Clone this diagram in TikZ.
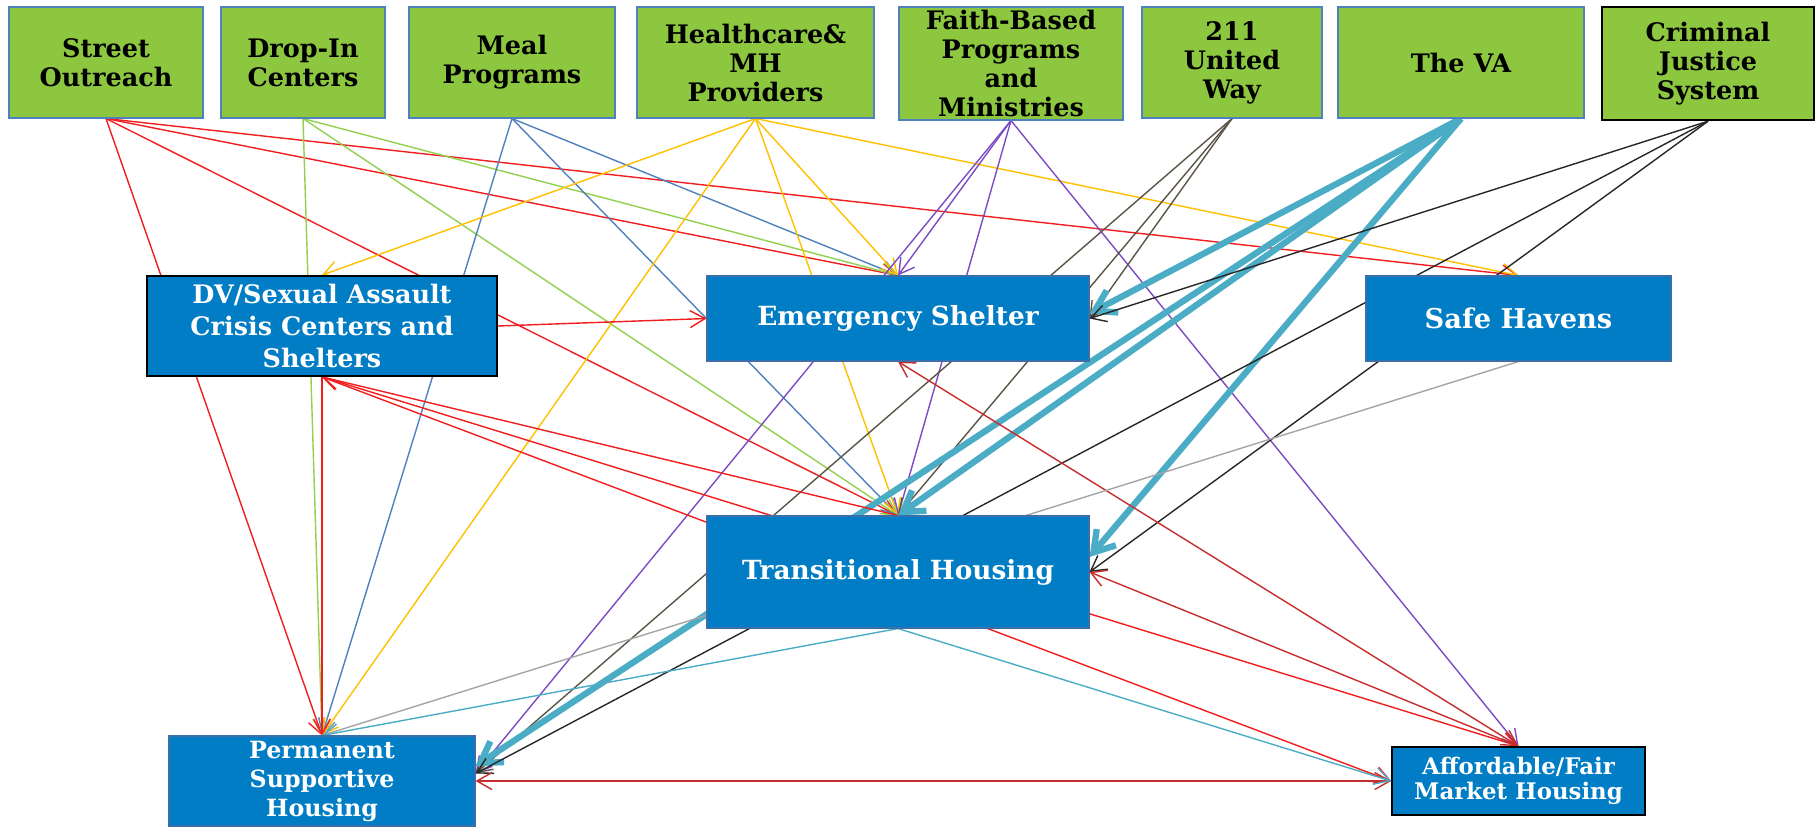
\documentclass[tikz,border=0pt]{standalone}
\usepackage{fontspec}
\setmainfont{DejaVu Serif}
\usetikzlibrary{arrows.meta}

\definecolor{boxgreen}{RGB}{141,198,63}
\definecolor{boxgreenrim}{RGB}{79,129,189}
\definecolor{boxblue}{RGB}{0,125,196}
\definecolor{boxbluerim}{RGB}{60,110,170}
\definecolor{lnred}{RGB}{240,30,30}
\definecolor{lnbrick}{RGB}{200,45,45}
\definecolor{lngreen}{RGB}{146,208,80}
\definecolor{lnblue}{RGB}{79,129,189}
\definecolor{lnyellow}{RGB}{255,192,0}
\definecolor{lnpurple}{RGB}{125,75,195}
\definecolor{lnolive}{RGB}{90,85,70}
\definecolor{lnteal}{RGB}{75,172,198}
\definecolor{lnblack}{RGB}{40,40,40}
\definecolor{lngrey}{RGB}{165,165,165}

\pgfdeclarelayer{back}
\pgfsetlayers{back,main}

\tikzset{
	agency/.style={draw=boxgreenrim, fill=boxgreen, line width=0.6pt, align=center, inner sep=0pt,
		font=\fontsize{14.5}{16.5}\selectfont\bfseries, minimum height=2.22cm},
	service/.style={draw=boxbluerim, fill=boxblue, text=white, line width=0.6pt, align=center, inner sep=0pt,
		font=\fontsize{14.5}{18}\selectfont\bfseries},
	flow/.style={line width=0.8pt, -{Straight Barb[length=3mm,width=3.4mm]}},
	twoway/.style={line width=0.8pt, {Straight Barb[length=3mm,width=3.4mm]}-{Straight Barb[length=3mm,width=3.4mm]}},
	vaflow/.style={draw=lnteal, line width=3.6pt, -{Straight Barb[length=4mm,width=5mm]}}
}

\begin{document}
\begin{tikzpicture}
	\useasboundingbox (0,0) rectangle (36.36,-16.7);
	
% referral sources
	\node[agency, minimum width=3.88cm] (so) at (2.12,-1.25) {Street\\Outreach};
	\node[agency, minimum width=3.28cm] (di) at (6.06,-1.25) {Drop-In\\Centers};
	\node[agency, minimum width=4.12cm] (mp) at (10.24,-1.25) {Meal\\Programs};
	\node[agency, minimum width=4.74cm] (hc) at (15.11,-1.25) {Healthcare\&\\MH\\Providers};
	\node[agency, minimum width=4.48cm, minimum height=2.26cm] (fb) at (20.22,-1.27) {Faith-Based\\Programs\\and\\Ministries};
	\node[agency, minimum width=3.6cm] (uw) at (24.64,-1.25) {211\\United\\Way};
	\node[agency, minimum width=4.92cm] (va) at (29.22,-1.25) {The VA};
	\node[agency, minimum width=4.24cm, minimum height=2.26cm, draw=black, line width=1.4pt] (cj) at (34.16,-1.27) {Criminal\\Justice\\System};
	
% housing
	\node[service, minimum width=7cm, minimum height=2cm, draw=black, line width=1pt] (dv) at (6.44,-6.52) {DV/Sexual Assault\\Crisis Centers and\\Shelters};
	\node[service, minimum width=7.64cm, minimum height=1.7cm, font=\fontsize{15}{18}\selectfont\bfseries] (es) at (17.96,-6.37) {Emergency Shelter};
	\node[service, minimum width=6.1cm, minimum height=1.7cm, font=\fontsize{15.5}{18}\selectfont\bfseries] (sh) at (30.37,-6.37) {Safe Havens};
	\node[service, minimum width=7.64cm, minimum height=2.24cm, font=\fontsize{15}{18}\selectfont\bfseries] (th) at (17.96,-11.44) {Transitional Housing};
	\node[service, minimum width=6.12cm, minimum height=1.8cm, font=\fontsize{13.5}{16.5}\selectfont\bfseries] (psh) at (6.44,-15.62) {Permanent\\Supportive\\Housing};
	\node[service, minimum width=5.06cm, minimum height=1.36cm, draw=black, line width=1pt, font=\fontsize{13}{14.5}\selectfont\bfseries] (af) at (30.37,-15.62) {Affordable/Fair\\Market Housing};
	
	\begin{pgfonlayer}{back}
	% street outreach
	\draw[flow, lnred] (so.south) -- (psh.north);
	\draw[flow, lnred] (so.south) -- (th.north);
	\draw[flow, lnred] (so.south) -- (es.north);
	\draw[flow, lnred] (so.south) -- (sh.north);
	
	% drop-in
	\draw[flow, lngreen] (di.south) -- (psh.north);
	\draw[flow, lngreen] (di.south) -- (es.north);
	\draw[flow, lngreen] (di.south) -- (th.north);
	
	% meals
	\draw[flow, lnblue] (mp.south) -- (es.north);
	\draw[flow, lnblue] (mp.south) -- (th.north);
	\draw[flow, lnblue] (mp.south) -- (psh.north);
	
	% healthcare
	\draw[flow, lnyellow] (hc.south) -- (dv.north);
	\draw[flow, lnyellow] (hc.south) -- (psh.north);
	\draw[flow, lnyellow] (hc.south) -- (es.north);
	\draw[flow, lnyellow] (hc.south) -- (th.north);
	\draw[flow, lnyellow] (hc.south) -- (sh.north);
	
	% faith based
	\draw[flow, lnpurple] (fb.south) -- (es.north);
	\draw[flow, lnpurple] (fb.south) -- (th.north);
	\draw[flow, lnpurple] (fb.south) -- ([yshift=1.5mm]psh.east);
	\draw[flow, lnpurple] (fb.south) -- (af.north);
	
	% 211
	\draw[flow, lnolive] (uw.south) -- (es.east);
	\draw[flow, lnolive] (uw.south) -- ([yshift=1.5mm]psh.east);
	\draw[flow, lnolive] (uw.south) -- (th.north);
	
	% the VA
	\draw[vaflow] (va.south) -- ([yshift=1mm]es.east);
	\draw[vaflow] (va.south) -- (th.north);
	\draw[vaflow] (va.south) -- ([yshift=3mm]th.east);
	\draw[vaflow] (va.south) -- ([yshift=3mm]psh.east);
	
	% criminal justice
	\draw[flow, lnblack] (cj.south) -- (es.east);
	\draw[flow, lnblack] (cj.south) -- (th.east);
	\draw[flow, lnblack] (cj.south) -- ([yshift=1.5mm]psh.east);
	
	% between the housing boxes
	\draw[flow, lnred] (dv.east) -- (es.west);
	\draw[flow, lnred] (th.north) -- (dv.south);
	\draw[flow, lnred] (dv.south) -- (psh.north);
	\draw[flow, lnred] (dv.south) -- (af.west);
	\draw[twoway, lnred] (af.north) -- (dv.south);
	\draw[twoway, lnbrick] (af.north) -- (es.south);
	\draw[twoway, lnbrick] (af.north) -- (th.east);
	\draw[twoway, lnbrick] (psh.east) -- (af.west);
	\draw[flow, lngrey] (sh.south) -- (psh.north);
	\draw[flow, lnteal] (th.south) -- (psh.north);
	\draw[flow, lnteal] (th.south) -- (af.west);
	\end{pgfonlayer}

\end{tikzpicture}
\end{document}
